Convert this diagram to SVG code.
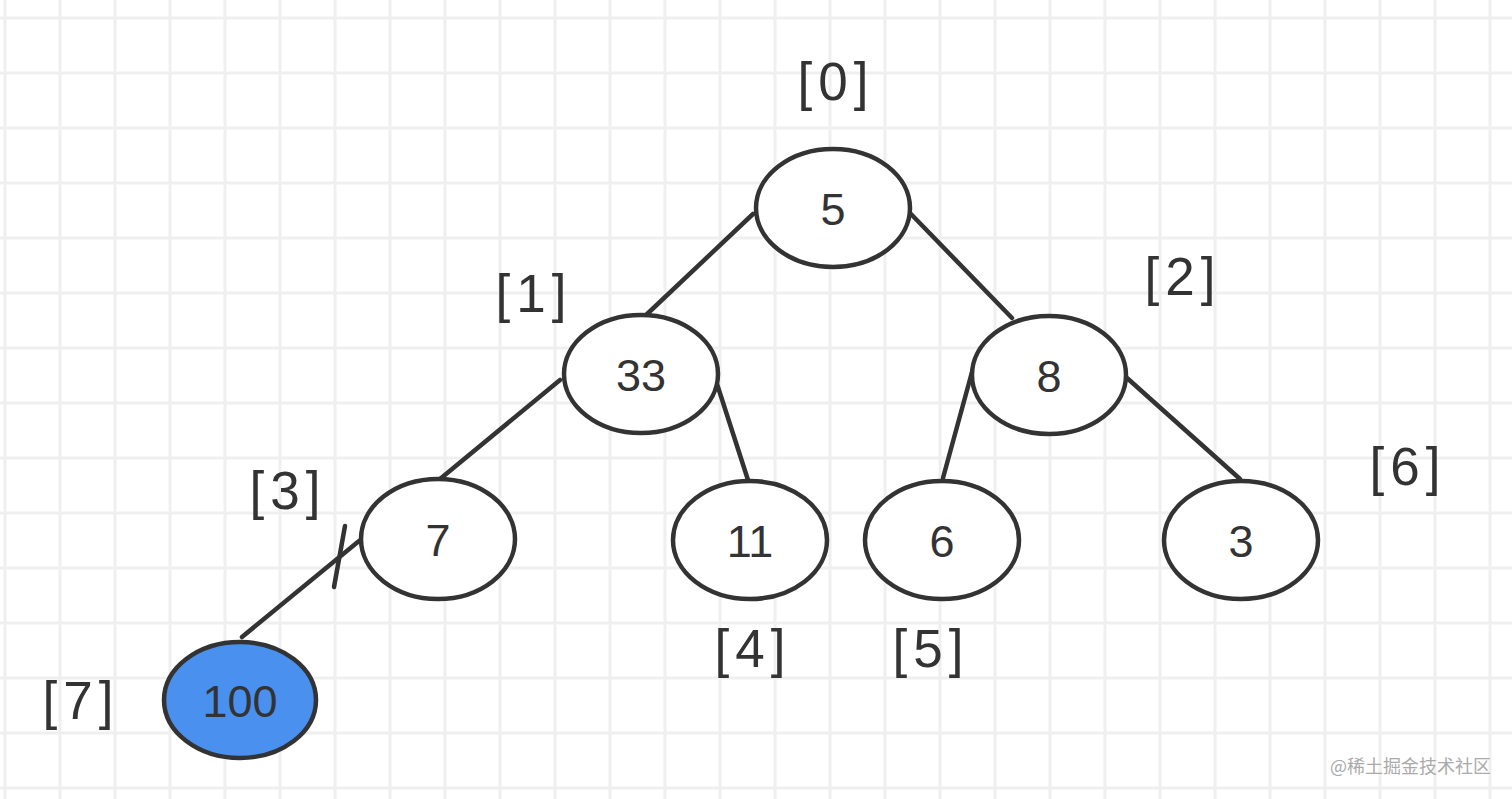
<svg xmlns="http://www.w3.org/2000/svg" width="1512" height="799" viewBox="0 0 1512 799">
<style>
.g{stroke:#efefef;stroke-width:3}
.n{fill:#fff;stroke:#333;stroke-width:4.5}
.e{stroke:#333;stroke-width:4.5;fill:none;stroke-linecap:round}
.t{font-family:"Liberation Sans",Arial,sans-serif;font-size:45px;fill:#333;text-anchor:middle}
.l{font-family:"Liberation Sans",Arial,sans-serif;font-size:53px;fill:#333;text-anchor:middle;letter-spacing:6px}
</style>
<rect width="1512" height="799" fill="#fff"/>
<g id="grid">
<path class="g" d="M5 0V799M60 0V799M115 0V799M170 0V799M225 0V799M280 0V799M335 0V799M390 0V799M445 0V799M500 0V799M555 0V799M610 0V799M665 0V799M720 0V799M775 0V799M830 0V799M885 0V799M940 0V799M995 0V799M1050 0V799M1105 0V799M1160 0V799M1215 0V799M1270 0V799M1325 0V799M1380 0V799M1435 0V799M1490 0V799"/>
<path class="g" d="M0 18H1512M0 73H1512M0 128H1512M0 183H1512M0 238H1512M0 293H1512M0 348H1512M0 403H1512M0 458H1512M0 513H1512M0 568H1512M0 623H1512M0 678H1512M0 733H1512M0 788H1512"/>
</g>
<g id="connectors">
<line class="e" x1="753" y1="214" x2="645" y2="316"/>
<line class="e" x1="909" y1="212" x2="1012" y2="318"/>
<line class="e" x1="560" y1="380" x2="440" y2="479"/>
<line class="e" x1="717" y1="384" x2="748" y2="480"/>
<line class="e" x1="972" y1="372" x2="943" y2="478"/>
<line class="e" x1="1127" y1="378" x2="1240" y2="479"/>
<line class="e" x1="359" y1="541" x2="242" y2="637"/>
<line class="e" x1="345" y1="526" x2="334" y2="587"/>
</g>
<g id="n0"><ellipse class="n" cx="833" cy="208" rx="77" ry="59"/><text class="t" x="833" y="225">5</text></g>
<g id="n1"><ellipse class="n" cx="641" cy="374" rx="77" ry="59"/><text class="t" x="641" y="391">33</text></g>
<g id="n2"><ellipse class="n" cx="1049" cy="375" rx="77" ry="59"/><text class="t" x="1049" y="392">8</text></g>
<g id="n3"><ellipse class="n" cx="438" cy="539" rx="77" ry="60"/><text class="t" x="438" y="556">7</text></g>
<g id="n4"><ellipse class="n" cx="750" cy="540" rx="77" ry="59"/><text class="t" x="750" y="557">11</text></g>
<g id="n5"><ellipse class="n" cx="942" cy="540" rx="77" ry="59"/><text class="t" x="942" y="557">6</text></g>
<g id="n6"><ellipse class="n" cx="1241" cy="540" rx="77" ry="59"/><text class="t" x="1241" y="557">3</text></g>
<g id="n7"><ellipse class="n" cx="240" cy="700" rx="76" ry="58" style="fill:#4a90ee"/><text class="t" x="240" y="717">100</text></g>
<g id="labels">
<text class="l" x="836" y="100">[0]</text>
<text class="l" x="534" y="312">[1]</text>
<text class="l" x="1183" y="295">[2]</text>
<text class="l" x="288" y="509">[3]</text>
<text class="l" x="753" y="667">[4]</text>
<text class="l" x="931" y="667">[5]</text>
<text class="l" x="1408" y="485">[6]</text>
<text class="l" x="81" y="719">[7]</text>
</g>
<text x="1330" y="773" style="font-family:'Noto Sans CJK SC',sans-serif;font-size:18px;fill:#aaa">@稀土掘金技术社区</text>
</svg>
